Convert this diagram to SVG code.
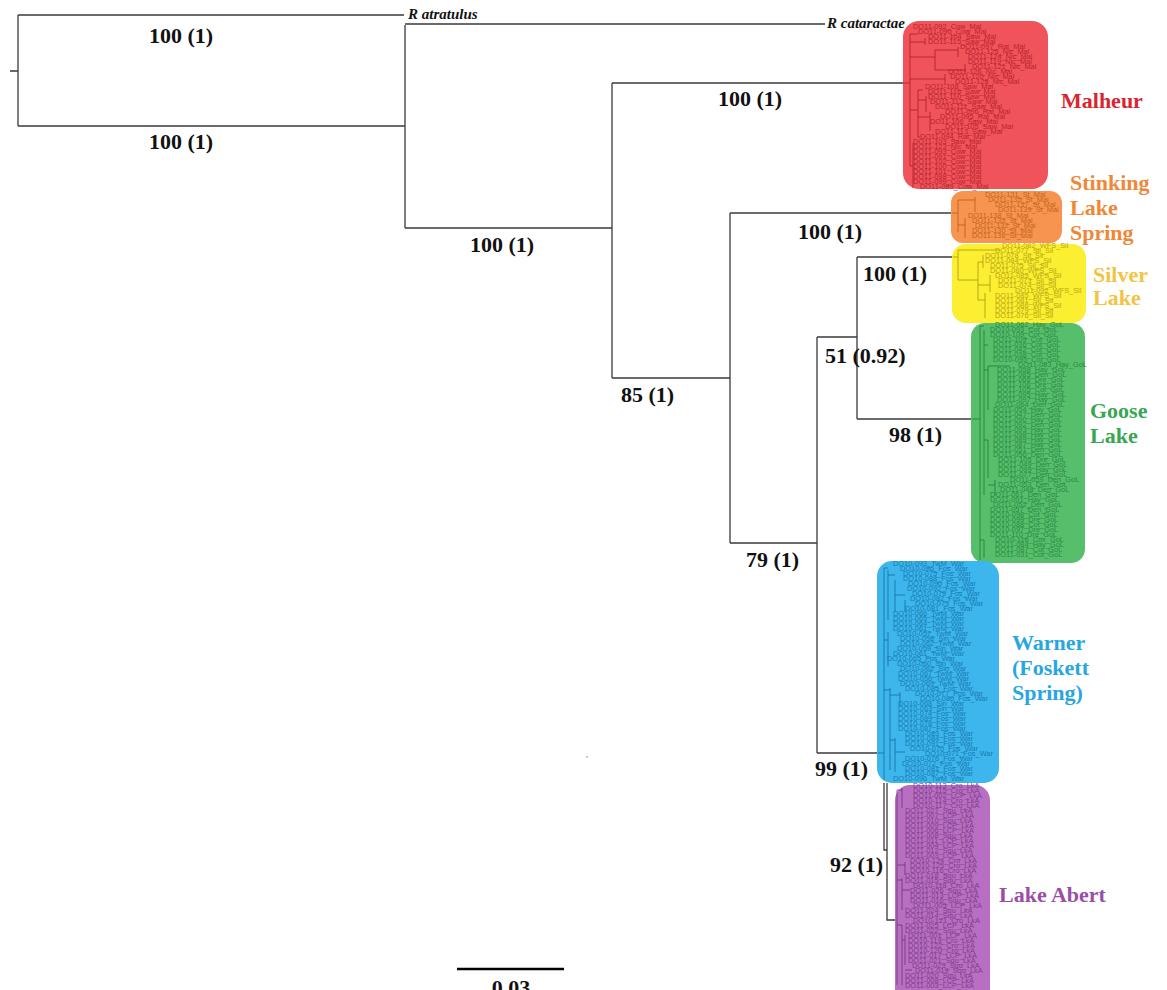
<svg xmlns="http://www.w3.org/2000/svg" width="1167" height="990" viewBox="0 0 1167 990">
<style>
.br{fill:none;stroke:#3a3a3a;stroke-width:1.3}
.sup{font-family:"Liberation Serif",serif;font-weight:bold;font-size:22px;fill:#111}
.cl{font-family:"Liberation Serif",serif;font-weight:bold;font-size:22px}
.out{font-family:"Liberation Serif",serif;font-weight:bold;font-style:italic;font-size:15px;fill:#111}
.tip{font-family:"Liberation Sans",sans-serif;font-size:7.4px}
.mt{fill:none;stroke-width:0.8}
.mal .tip{fill:#b8232c}.mal .mt{stroke:#a81e27}
.sti .tip{fill:#c5631f}.sti .mt{stroke:#b85a1a}
.sil .tip{fill:#b8a614}.sil .mt{stroke:#a89810}
.goo .tip{fill:#2b8a42}.goo .mt{stroke:#237a38}
.war .tip{fill:#1a7bb3}.war .mt{stroke:#156da0}
.abe .tip{fill:#7f3c8c}.abe .mt{stroke:#71307e}
</style>
<rect width="1167" height="990" fill="#fff"/>

<g id="connectors">
<path class="br" d="M10,71H18 M18,15V126 M18,15H404 M18,126H405"/>
<path class="br" d="M405,25V228 M405,24H825 M405,228H612"/>
<path class="br" d="M612,83V378 M612,83H903 M612,378H730"/>
<path class="br" d="M730,213V543 M730,213H952 M730,543H817"/>
<path class="br" d="M817,337V753 M817,337H857 M817,753H878"/>
<path class="br" d="M857,257V419 M857,257H953 M857,419H971"/>
<path class="br" d="M884,783V850H887 M887,783V920H897"/>
<path d="M457,969H564" stroke="#000" stroke-width="2.5"/>
<circle cx="587" cy="757" r="0.8" fill="#888"/>
</g>

<g id="outgroup-atratulus"><text class="out" x="408" y="19">R atratulus</text></g>
<g id="outgroup-cataractae"><text class="out" x="827" y="28">R cataractae</text></g>

<g id="support-labels">
<text class="sup" x="181" y="43" text-anchor="middle">100 (1)</text>
<text class="sup" x="181" y="149" text-anchor="middle">100 (1)</text>
<text class="sup" x="502" y="252" text-anchor="middle">100 (1)</text>
<text class="sup" x="750" y="106" text-anchor="middle">100 (1)</text>
<text class="sup" x="621" y="402">85 (1)</text>
<text class="sup" x="830" y="239" text-anchor="middle">100 (1)</text>
<text class="sup" x="863" y="281">100 (1)</text>
<text class="sup" x="825" y="363">51 (0.92)</text>
<text class="sup" x="889" y="442">98 (1)</text>
<text class="sup" x="746" y="567">79 (1)</text>
<text class="sup" x="815" y="776">99 (1)</text>
<text class="sup" x="830" y="872">92 (1)</text>
</g>

<g id="scale">
<text class="sup" x="511" y="995" text-anchor="middle" font-size="17">0.03</text>
</g>

<g id="clade-malheur" class="mal">
<rect x="903" y="21" width="145" height="168" rx="16" fill="#f0535a"/>
<path class="mt" d="M903,83H910 M910,34V166 M910,34H918 M910,42H925 M925,38V45 M910,57H935 M935,50V70 M935,50H958 M958,47V57 M935,70H965 M965,64V72 M910,79H945 M945,74V85 M910,110H918 M918,90V137 M918,90H923 M918,100H926 M926,96V112 M918,117H930 M930,112V131 M918,137H920 M913,143V188 M910,166H913"/>
<text class="tip" x="913" y="29">DO11-092_Cow_Mal</text>
<text class="tip" x="918" y="34">DO11-090_Cow_Mal</text>
<text class="tip" x="928" y="39">DO11-104_Saw_Mal</text>
<text class="tip" x="928" y="44">DO11-115_Saw_Mal</text>
<text class="tip" x="960" y="49">DO11-097_Rat_Mal</text>
<text class="tip" x="965" y="54">DO11-125_Nic_Mal</text>
<text class="tip" x="968" y="59">DO11-124_Nic_Mal</text>
<text class="tip" x="968" y="64">DO11-119_Nic_Mal</text>
<text class="tip" x="972" y="69">DO11-121_Nic_Mal</text>
<text class="tip" x="948" y="74">DO11-126_Nic_Mal</text>
<text class="tip" x="950" y="79">DO11-120_Nic_Mal</text>
<text class="tip" x="955" y="84">DO11-128_Nic_Mal</text>
<text class="tip" x="925" y="89">DO11-108_Saw_Mal</text>
<text class="tip" x="928" y="94">DO11-116_Saw_Mal</text>
<text class="tip" x="928" y="99">DO11-110_Saw_Mal</text>
<text class="tip" x="930" y="104">DO11-112_Saw_Mal</text>
<text class="tip" x="935" y="109">DO11-111_Saw_Mal</text>
<text class="tip" x="945" y="114">DO11-096_Rat_Mal</text>
<text class="tip" x="940" y="119">DO11-095_Rat_Mal</text>
<text class="tip" x="930" y="124">DO11-106_Saw_Mal</text>
<text class="tip" x="945" y="129">DO11-105_Saw_Mal</text>
<text class="tip" x="935" y="134">DO11-113_Saw_Mal</text>
<text class="tip" x="920" y="139">DO11-094_Rat_Mal</text>
<text class="tip" x="913" y="144">DO11-103_Saw_Mal</text>
<text class="tip" x="913" y="149">DO11-123_Nic_Mal</text>
<text class="tip" x="913" y="154">DO11-093_Cow_Mal</text>
<text class="tip" x="913" y="159">DO11-091_Cow_Mal</text>
<text class="tip" x="913" y="164">DO11-102_Cow_Mal</text>
<text class="tip" x="913" y="169">DO11-100_Cow_Mal</text>
<text class="tip" x="913" y="174">DO11-101_Cow_Mal</text>
<text class="tip" x="913" y="179">DO11-098_Cow_Mal</text>
<text class="tip" x="913" y="184">DO11-099_Cow_Mal</text>
<text class="tip" x="920" y="189">DO11-089_Cow_Mal</text>
<text class="cl" x="1061" y="108" fill="#d92530">Malheur</text>
</g>

<g id="clade-stinking" class="sti">
<rect x="951" y="191" width="111" height="52" rx="12" fill="#f7944f"/>
<path class="mt" d="M952,213H958 M958,200V232 M958,200H975 M975,197V212 M958,225H965 M965,218V238"/>
<text class="tip" x="985" y="197">DO11-131_St_Mal</text>
<text class="tip" x="988" y="202">DO11-135_St_Mal</text>
<text class="tip" x="995" y="207">DO11-137_St_Mal</text>
<text class="tip" x="998" y="212">DO11-139_St_Mal</text>
<text class="tip" x="968" y="218">DO11-138_St_Mal</text>
<text class="tip" x="972" y="223">DO11-133_St_Mal</text>
<text class="tip" x="975" y="228">DO11-132_St_Mal</text>
<text class="tip" x="972" y="233">DO11-130_St_Mal</text>
<text class="tip" x="972" y="238">DO11-136_St_Mal</text>
<text class="cl" x="1070" y="190" fill="#f08737">Stinking</text>
<text class="cl" x="1070" y="215" fill="#f08737">Lake</text>
<text class="cl" x="1070" y="240" fill="#f08737">Spring</text>
</g>

<g id="clade-silver" class="sil">
<rect x="952" y="244" width="134" height="79" rx="14" fill="#fcee31"/>
<path class="mt" d="M953,257H958 M958,250V280 M958,250H1000 M958,280H978 M978,262V300 M978,262H983 M983,255V268 M978,285H990 M990,275V292 M978,300H985 M985,293V318"/>
<text class="tip" x="1002" y="248">DO11-082_WFS_Sil</text>
<text class="tip" x="995" y="253">DO11-077_Sil_Sil</text>
<text class="tip" x="985" y="258">DO11-078_Sil_Sil</text>
<text class="tip" x="985" y="263">DO11-084_WFS_Sil</text>
<text class="tip" x="990" y="268">DO11-075_Sil_Sil</text>
<text class="tip" x="990" y="273">DO11-080_WFS_Sil</text>
<text class="tip" x="995" y="278">DO11-083_WFS_Sil</text>
<text class="tip" x="998" y="283">DO11-073_Sil_Sil</text>
<text class="tip" x="998" y="288">DO11-074_Sil_Sil</text>
<text class="tip" x="1015" y="293">DO11-092_WFS_Sil</text>
<text class="tip" x="995" y="298">DO11-085_WFS_Sil</text>
<text class="tip" x="995" y="303">DO11-081_Sil_Sil</text>
<text class="tip" x="995" y="308">DO11-086_WFS_Sil</text>
<text class="tip" x="995" y="313">DO11-079_Sil_Sil</text>
<text class="tip" x="995" y="318">DO11-076_Sil_Sil</text>
<text class="cl" x="1093" y="282" fill="#f3c443">Silver</text>
<text class="cl" x="1093" y="305" fill="#f3c443">Lake</text>
</g>

<g id="clade-goose" class="goo">
<rect x="971" y="323" width="114" height="240" rx="14" fill="#57be6c"/>
<path class="mt" d="M972,419H980 M980,326V560 M980,326H984 M984,330V495 M984,345H988 M984,370H988 M988,366V410 M988,366H1010 M984,440H988 M988,440V478 M988,485H995 M995,480V495 M980,540H984 M984,540V558"/>
<text class="tip" x="995" y="327">DO11-062_Hay_GoL</text>
<text class="tip" x="990" y="332">DO10-093_Cot_GoL</text>
<text class="tip" x="990" y="337">DO10-109_Cot_GoL</text>
<text class="tip" x="993" y="342">DO11-109_Cot_GoL</text>
<text class="tip" x="993" y="347">DO11-036_Cot_GoL</text>
<text class="tip" x="993" y="352">DO11-042_Cot_GoL</text>
<text class="tip" x="993" y="357">DO11-038_Cot_GoL</text>
<text class="tip" x="993" y="362">DO10-095_Cot_GoL</text>
<text class="tip" x="1018" y="367">DO11-083_Hay_GoL</text>
<text class="tip" x="997" y="372">DO11-058_Hay_GoL</text>
<text class="tip" x="997" y="377">DO11-085_Den_GoL</text>
<text class="tip" x="997" y="382">DO11-066_Dre_GoL</text>
<text class="tip" x="997" y="387">DO11-106_Dre_GoL</text>
<text class="tip" x="997" y="392">DO11-105_Cot_GoL</text>
<text class="tip" x="997" y="397">DO11-095_Hay_GoL</text>
<text class="tip" x="997" y="402">DO11-097_Hay_GoL</text>
<text class="tip" x="995" y="407">DO11-064_Den_GoL</text>
<text class="tip" x="993" y="412">DO11-054_Hay_GoL</text>
<text class="tip" x="993" y="417">DO11-047_Den_GoL</text>
<text class="tip" x="993" y="422">DO11-090_Hay_GoL</text>
<text class="tip" x="993" y="427">DO11-092_Den_GoL</text>
<text class="tip" x="993" y="432">DO11-093_Hay_GoL</text>
<text class="tip" x="993" y="437">DO11-098_Hay_GoL</text>
<text class="tip" x="993" y="442">DO11-089_Hay_GoL</text>
<text class="tip" x="993" y="447">DO11-087_Hay_GoL</text>
<text class="tip" x="993" y="452">DO11-051_Den_GoL</text>
<text class="tip" x="993" y="457">DO11-056_Den_GoL</text>
<text class="tip" x="998" y="462">DO11-103_Dre_GoL</text>
<text class="tip" x="998" y="467">DO11-049_Den_GoL</text>
<text class="tip" x="998" y="472">DO11-099_Hay_GoL</text>
<text class="tip" x="998" y="477">DO11-077_Den_GoL</text>
<text class="tip" x="1010" y="482">DO11-059_Den_GoL</text>
<text class="tip" x="998" y="487">DO11-053_Den_GoL</text>
<text class="tip" x="1000" y="492">DO11-048_Den_GoL</text>
<text class="tip" x="990" y="497">DO11-061_Den_GoL</text>
<text class="tip" x="990" y="502">DO11-091_Hay_GoL</text>
<text class="tip" x="993" y="507">DO11-052_Den_GoL</text>
<text class="tip" x="990" y="512">DO11-057_Den_GoL</text>
<text class="tip" x="990" y="517">DO10-098_Cot_GoL</text>
<text class="tip" x="990" y="522">DO10-099_Dre_GoL</text>
<text class="tip" x="990" y="527">DO10-088_Cot_GoL</text>
<text class="tip" x="990" y="532">DO10-097_Dre_GoL</text>
<text class="tip" x="990" y="537">DO11-110_Dre_GoL</text>
<text class="tip" x="995" y="542">DO10-116_Cox_GoL</text>
<text class="tip" x="995" y="547">DO11-084_Hay_GoL</text>
<text class="tip" x="995" y="552">DO11-087_Cot_GoL</text>
<text class="tip" x="995" y="557">DO11-031_Cot_GoL</text>
<text class="cl" x="1090" y="418" fill="#39a654">Goose</text>
<text class="cl" x="1090" y="443" fill="#39a654">Lake</text>
</g>

<g id="clade-warner" class="war">
<rect x="877" y="561" width="122" height="222" rx="15" fill="#3cb6ec"/>
<path class="mt" d="M878,753H884 M884,568V780 M884,568H888 M888,570V620 M888,575H895 M895,580V612 M895,595H905 M905,600V612 M884,640H888 M888,632V666 M884,690H890 M890,688V770 M890,695H900 M900,692V705 M890,740H895 M895,738V772 M895,752H905"/>
<text class="tip" x="893" y="566">DO10-093_TwM_War</text>
<text class="tip" x="900" y="571">DO10-086_Fos_War</text>
<text class="tip" x="903" y="576">DO10-075_Fos_War</text>
<text class="tip" x="903" y="581">DO10-088_Fos_War</text>
<text class="tip" x="908" y="586">DO10-090_Fos_War</text>
<text class="tip" x="907" y="591">DO10-092_Fos_War</text>
<text class="tip" x="912" y="596">DO10-079_Fos_War</text>
<text class="tip" x="910" y="601">DO10-082_Fos_War</text>
<text class="tip" x="915" y="606">DO10-073_Fos_War</text>
<text class="tip" x="905" y="611">DO10-081_Fos_War</text>
<text class="tip" x="893" y="616">DO10-066_TwM_War</text>
<text class="tip" x="893" y="621">DO10-065_TwM_War</text>
<text class="tip" x="893" y="626">DO10-064_TwM_War</text>
<text class="tip" x="893" y="631">DO10-061_TwM_War</text>
<text class="tip" x="897" y="636">DO10-057_TwM_War</text>
<text class="tip" x="900" y="641">DO10-058_Sin_War</text>
<text class="tip" x="900" y="646">DO10-062_TwM_War</text>
<text class="tip" x="897" y="651">DO10-059_Sin_War</text>
<text class="tip" x="893" y="656">DO10-061_TwM_War</text>
<text class="tip" x="887" y="661">DO10-065_Fos_War</text>
<text class="tip" x="897" y="666">DO10-060_Sin_War</text>
<text class="tip" x="900" y="671">DO10-062_Sin_War</text>
<text class="tip" x="898" y="676">DO10-067_TwM_War</text>
<text class="tip" x="898" y="681">DO10-056_TwM_War</text>
<text class="tip" x="900" y="686">DO10-069_TwM_War</text>
<text class="tip" x="905" y="691">DO10-085_Fos_War</text>
<text class="tip" x="915" y="696">DO10-077_Fos_War</text>
<text class="tip" x="920" y="701">DO10-080_Fos_War</text>
<text class="tip" x="898" y="706">DO10-068_Sin_War</text>
<text class="tip" x="898" y="711">DO10-063_Sin_War</text>
<text class="tip" x="898" y="716">DO10-074_Fos_War</text>
<text class="tip" x="898" y="721">DO10-089_Fos_War</text>
<text class="tip" x="898" y="726">DO10-078_Fos_War</text>
<text class="tip" x="898" y="731">DO10-087_Fos_War</text>
<text class="tip" x="905" y="736">DO10-083_Fos_War</text>
<text class="tip" x="905" y="741">DO10-084_Fos_War</text>
<text class="tip" x="905" y="746">DO10-091_Fos_War</text>
<text class="tip" x="910" y="751">DO10-070_Fos_War</text>
<text class="tip" x="925" y="756">DO10-071_Fos_War</text>
<text class="tip" x="905" y="761">DO10-076_Fos_War</text>
<text class="tip" x="902" y="766">DO10-072_Fos_War</text>
<text class="tip" x="905" y="771">DO10-081_Fos_War</text>
<text class="tip" x="905" y="776">DO10-087_Fos_War</text>
<text class="tip" x="893" y="781">DO10-096_TwM_War</text>
<text class="cl" x="1012" y="650" fill="#27a6df">Warner</text>
<text class="cl" x="1012" y="675" fill="#27a6df">(Foskett</text>
<text class="cl" x="1012" y="700" fill="#27a6df">Spring)</text>
</g>

<g id="clade-abert" class="abe">
<rect x="895" y="785" width="95" height="220" rx="15" fill="#b86fc1"/>
<path class="mt" d="M897,790V985 M897,790H902 M902,788V808 M897,865H905 M905,862V875 M897,880H902 M902,878V910 M902,890H910 M897,925H902 M902,925V985 M902,940H905 M905,935V965 M905,970H912"/>
<text class="tip" x="913" y="788">DO10-113_Cro_LkA</text>
<text class="tip" x="913" y="793">DO10-115_Cro_LkA</text>
<text class="tip" x="913" y="798">DO11-002_LCP_LkA</text>
<text class="tip" x="913" y="803">DO10-114_Cro_LkA</text>
<text class="tip" x="913" y="808">DO10-117_Cro_LkA</text>
<text class="tip" x="905" y="813">DO11-027_Squ_LkA</text>
<text class="tip" x="905" y="818">DO11-007_LCP_LkA</text>
<text class="tip" x="905" y="823">DO11-010_Squ_LkA</text>
<text class="tip" x="905" y="828">DO11-009_LCP_LkA</text>
<text class="tip" x="905" y="833">DO11-006_LCP_LkA</text>
<text class="tip" x="905" y="838">DO11-008_Squ_LkA</text>
<text class="tip" x="905" y="843">DO11-011_LCP_LkA</text>
<text class="tip" x="905" y="848">DO11-004_LCP_LkA</text>
<text class="tip" x="905" y="853">DO11-012_Squ_LkA</text>
<text class="tip" x="905" y="858">DO11-003_LCP_LkA</text>
<text class="tip" x="910" y="863">DO10-124_Cro_LkA</text>
<text class="tip" x="910" y="868">DO10-125_Cro_LkA</text>
<text class="tip" x="910" y="873">DO10-116_Cro_LkA</text>
<text class="tip" x="905" y="878">DO11-018_Squ_LkA</text>
<text class="tip" x="905" y="883">DO11-015_Squ_LkA</text>
<text class="tip" x="913" y="888">DO10-118_Cro_LkA</text>
<text class="tip" x="910" y="893">DO11-026_Squ_LkA</text>
<text class="tip" x="910" y="898">DO11-013_LCP_LkA</text>
<text class="tip" x="910" y="903">DO11-016_Squ_LkA</text>
<text class="tip" x="913" y="908">DO11-005_LCP_LkA</text>
<text class="tip" x="905" y="913">DO11-024_Squ_LkA</text>
<text class="tip" x="905" y="918">DO11-014_Squ_LkA</text>
<text class="tip" x="913" y="923">DO10-121_Cro_LkA</text>
<text class="tip" x="905" y="928">DO11-025_LCP_LkA</text>
<text class="tip" x="905" y="933">DO11-022_Squ_LkA</text>
<text class="tip" x="908" y="938">DO11-001_LCP_LkA</text>
<text class="tip" x="908" y="943">DO10-119_Cro_LkA</text>
<text class="tip" x="908" y="948">DO10-122_Cro_LkA</text>
<text class="tip" x="908" y="953">DO10-120_Cro_LkA</text>
<text class="tip" x="908" y="958">DO11-017_LCP_LkA</text>
<text class="tip" x="908" y="963">DO11-021_Squ_LkA</text>
<text class="tip" x="912" y="968">DO11-023_Squ_LkA</text>
<text class="tip" x="915" y="973">DO11-019_Squ_LkA</text>
<text class="tip" x="905" y="978">DO11-020_Squ_LkA</text>
<text class="tip" x="905" y="983">DO11-008_LCP_LkA</text>
<text class="tip" x="905" y="988">DO11-003_LCP_LkA</text>
<text class="cl" x="999" y="902" fill="#9a4ea6">Lake Abert</text>
</g>
</svg>
